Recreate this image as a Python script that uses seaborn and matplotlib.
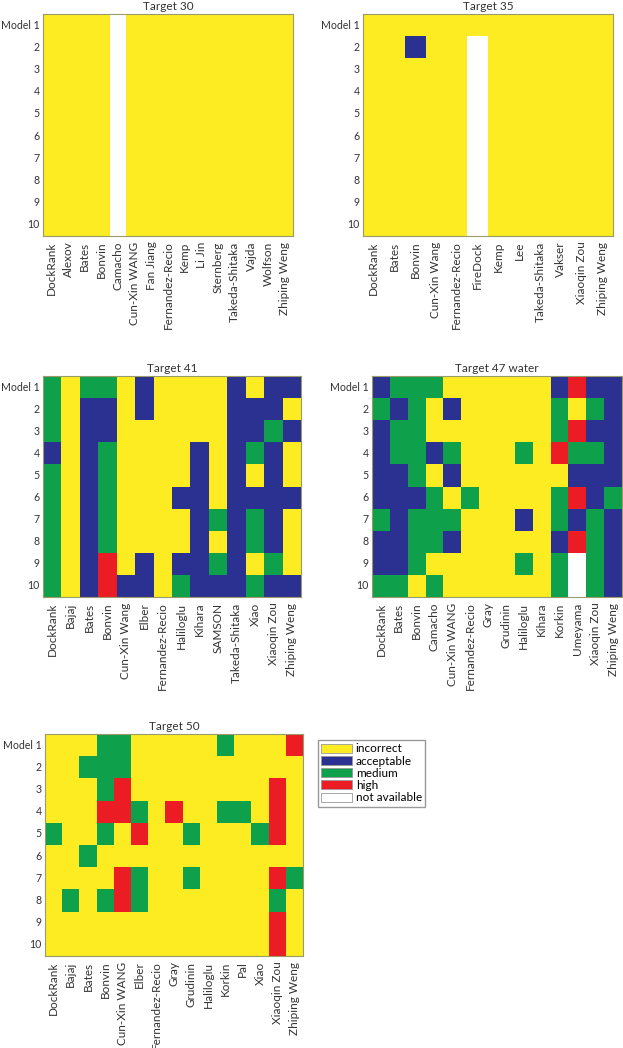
import matplotlib.pyplot as plt
from matplotlib.colors import ListedColormap
from matplotlib.patches import Patch
import numpy as np
import pandas as pd
import seaborn as sns

# 0 = incorrect, 1 = acceptable, 2 = medium, 3 = high, nan = not available
nan = np.nan
model_labels = ["Model 1", "2", "3", "4", "5", "6", "7", "8", "9", "10"]
class_names = ["incorrect", "acceptable", "medium", "high", "not available"]
class_colors = ["#fcec21", "#2b3190", "#0ea04b", "#ec1c24", "#ffffff"]

t30_groups = ["DockRank", "Alexov", "Bates", "Bonvin", "Camacho", "Cun-Xin WANG",
              "Fan Jiang", "Fernandez-Recio", "Kemp", "Li Jin", "Sternberg",
              "Takeda-Shitaka", "Vajda", "Wolfson", "Zhiping Weng"]
t30_values = {g: [0] * 10 for g in t30_groups}
t30_values["Camacho"] = [nan] * 10

t35_groups = ["DockRank", "Bates", "Bonvin", "Cun-Xin Wang", "Fernandez-Recio",
              "FireDock", "Kemp", "Lee", "Takeda-Shitaka", "Vakser",
              "Xiaoqin Zou", "Zhiping Weng"]
t35_values = {g: [0] * 10 for g in t35_groups}
t35_values["Bonvin"] = [0, 1, 0, 0, 0, 0, 0, 0, 0, 0]
t35_values["FireDock"] = [0, nan, nan, nan, nan, nan, nan, nan, nan, nan]

t41_groups = ["DockRank", "Bajaj", "Bates", "Bonvin", "Cun-Xin Wang", "Elber",
              "Fernandez-Recio", "Haliloglu", "Kihara", "SAMSON",
              "Takeda-Shitaka", "Xiao", "Xiaoqin Zou", "Zhiping Weng"]
t41_values = {
    "DockRank":        [2, 2, 2, 1, 2, 2, 2, 2, 2, 2],
    "Bajaj":           [0, 0, 0, 0, 0, 0, 0, 0, 0, 0],
    "Bates":           [2, 1, 1, 1, 1, 1, 1, 1, 1, 1],
    "Bonvin":          [2, 1, 1, 2, 2, 2, 2, 2, 3, 3],
    "Cun-Xin Wang":    [0, 0, 0, 0, 0, 0, 0, 0, 0, 1],
    "Elber":           [1, 1, 0, 0, 0, 0, 0, 0, 1, 1],
    "Fernandez-Recio": [0, 0, 0, 0, 0, 0, 0, 0, 0, 0],
    "Haliloglu":       [0, 0, 0, 0, 0, 1, 0, 0, 1, 2],
    "Kihara":          [0, 0, 0, 1, 1, 1, 1, 1, 1, 1],
    "SAMSON":          [0, 0, 0, 0, 0, 0, 2, 0, 2, 1],
    "Takeda-Shitaka":  [1, 1, 1, 1, 1, 1, 1, 1, 1, 1],
    "Xiao":            [0, 1, 1, 2, 0, 1, 2, 2, 0, 2],
    "Xiaoqin Zou":     [1, 1, 2, 1, 1, 1, 1, 1, 2, 1],
    "Zhiping Weng":    [1, 0, 1, 0, 0, 1, 0, 0, 0, 1],
}

t47_groups = ["DockRank", "Bates", "Bonvin", "Camacho", "Cun-Xin WANG",
              "Fernandez-Recio", "Gray", "Grudinin", "Haliloglu", "Kihara",
              "Korkin", "Umeyama", "Xiaoqin Zou", "Zhiping Weng"]
t47_values = {
    "DockRank":        [1, 2, 1, 1, 1, 1, 2, 1, 1, 2],
    "Bates":           [2, 1, 2, 2, 1, 1, 1, 1, 1, 2],
    "Bonvin":          [2, 2, 2, 2, 2, 1, 2, 2, 2, 0],
    "Camacho":         [2, 0, 0, 1, 0, 2, 2, 2, 0, 2],
    "Cun-Xin WANG":    [0, 1, 0, 2, 1, 0, 2, 1, 0, 0],
    "Fernandez-Recio": [0, 0, 0, 0, 0, 2, 0, 0, 0, 0],
    "Gray":            [0, 0, 0, 0, 0, 0, 0, 0, 0, 0],
    "Grudinin":        [0, 0, 0, 0, 0, 0, 0, 0, 0, 0],
    "Haliloglu":       [0, 0, 0, 2, 0, 0, 1, 0, 2, 0],
    "Kihara":          [0, 0, 0, 0, 0, 0, 0, 0, 0, 0],
    "Korkin":          [1, 2, 2, 3, 0, 2, 2, 1, 2, 2],
    "Umeyama":         [3, 0, 3, 2, 1, 3, 1, 3, nan, nan],
    "Xiaoqin Zou":     [1, 2, 1, 2, 1, 1, 2, 2, 2, 2],
    "Zhiping Weng":    [1, 1, 1, 1, 1, 2, 1, 1, 1, 1],
}

t50_groups = ["DockRank", "Bajaj", "Bates", "Bonvin", "Cun-Xin WANG", "Elber",
              "Fernandez-Recio", "Gray", "Grudinin", "Haliloglu", "Korkin",
              "Pal", "Xiao", "Xiaoqin Zou", "Zhiping Weng"]
t50_values = {
    "DockRank":        [0, 0, 0, 0, 2, 0, 0, 0, 0, 0],
    "Bajaj":           [0, 0, 0, 0, 0, 0, 0, 2, 0, 0],
    "Bates":           [0, 2, 0, 0, 0, 2, 0, 0, 0, 0],
    "Bonvin":          [2, 2, 2, 3, 2, 0, 0, 2, 0, 0],
    "Cun-Xin WANG":    [2, 2, 3, 3, 0, 0, 3, 3, 0, 0],
    "Elber":           [0, 0, 0, 2, 3, 0, 2, 2, 0, 0],
    "Fernandez-Recio": [0, 0, 0, 0, 0, 0, 0, 0, 0, 0],
    "Gray":            [0, 0, 0, 3, 0, 0, 0, 0, 0, 0],
    "Grudinin":        [0, 0, 0, 0, 2, 0, 2, 0, 0, 0],
    "Haliloglu":       [0, 0, 0, 0, 0, 0, 0, 0, 0, 0],
    "Korkin":          [2, 0, 0, 2, 0, 0, 0, 0, 0, 0],
    "Pal":             [0, 0, 0, 2, 0, 0, 0, 0, 0, 0],
    "Xiao":            [0, 0, 0, 0, 2, 0, 0, 0, 0, 0],
    "Xiaoqin Zou":     [0, 0, 3, 3, 3, 0, 3, 2, 3, 3],
    "Zhiping Weng":    [3, 0, 0, 0, 0, 0, 2, 0, 0, 0],
}

panels = [
    ("Target 30", t30_groups, t30_values, [43, 14, 250, 222]),
    ("Target 35", t35_groups, t35_values, [363, 14, 250, 222]),
    ("Target 41", t41_groups, t41_values, [43, 376, 258, 221]),
    ("Target 47 water", t47_groups, t47_values, [372, 376, 250, 221]),
    ("Target 50", t50_groups, t50_values, [45, 734, 258, 222]),
]

W, H = 623, 1048
plt.rcParams['font.family'] = ['Lato', 'DejaVu Sans']
fig = plt.figure(figsize=(W / 100, H / 100), dpi=100)
cmap = ListedColormap(class_colors[:4])

for title, groups, values, (x, y, w, h) in panels:
    ax = fig.add_axes([x / W, 1 - (y + h) / H, w / W, h / H])
    df = pd.DataFrame({g: values[g] for g in groups}, index=model_labels)
    sns.heatmap(df, ax=ax, cmap=cmap, vmin=-0.5, vmax=3.5, cbar=False)
    ax.set_title(title, fontsize=8.5, color="#333333", pad=3)
    ax.set_xticklabels(groups, rotation=90, fontsize=8.5, color="#333333")
    ax.set_yticklabels(model_labels, rotation=0, fontsize=7.6, color="#333333")
    ax.tick_params(axis="x", length=0, pad=4)
    ax.tick_params(axis="y", length=0, pad=2.5)
    for s in ax.spines.values():
        s.set_visible(True)
        s.set_color("#9a9a6a")
        s.set_linewidth(0.8)

handles = [Patch(facecolor=c, edgecolor="#999999", linewidth=0.6) for c in class_colors]
fig.legend(handles, class_names, loc="upper left",
           bbox_to_anchor=(312 / W, 1 - 734 / H), fontsize=8.5,
           handlelength=2.6, handleheight=0.8, labelspacing=0.1,
           handletextpad=0.3, borderpad=0.3, fancybox=False,
           edgecolor="#999999", framealpha=1)

fig.savefig("out.png", dpi=100)
